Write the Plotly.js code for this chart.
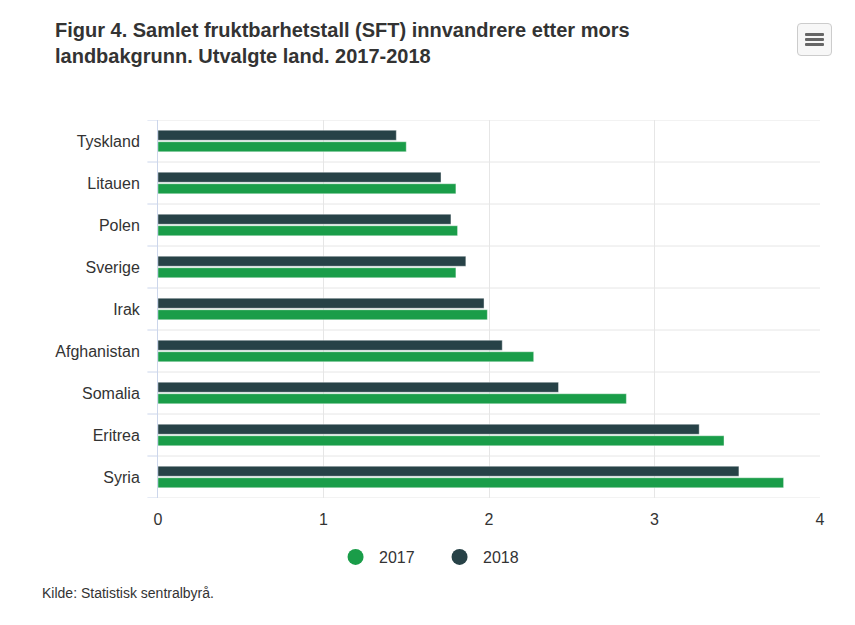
<!DOCTYPE html>
<html>
<head>
<meta charset="utf-8">
<script src="https://cdn.plot.ly/plotly-3.0.1.min.js"></script>
<style>
  html, body { margin: 0; padding: 0; background: #fff; }
  #chart { width: 855px; height: 625px; position: relative; }
  #menu { position: absolute; left: 797px; top: 23px; width: 35px; height: 33px; border: 1px solid #cccccc; border-radius: 4px; background: #f7f7f7; box-sizing: border-box; z-index: 10; }
  #menu span { position: absolute; left: 7px; width: 19px; height: 3px; background: #666666; border-radius: 1px; }
</style>
</head>
<body>
<div id="chart"></div>
<div id="menu"><span style="top:9px"></span><span style="top:14px"></span><span style="top:19px"></span></div>
<script>
const categories = ["Tyskland", "Litauen", "Polen", "Sverige", "Irak", "Afghanistan", "Somalia", "Eritrea", "Syria"];
const values2017 = [1.50, 1.80, 1.81, 1.80, 1.99, 2.27, 2.83, 3.42, 3.78];
const values2018 = [1.44, 1.71, 1.77, 1.86, 1.97, 2.08, 2.42, 3.27, 3.51];
const seriesNames = ["2017", "2018"];
const xTicks = [0, 1, 2, 3, 4];

const green = "#1a9d49";
const dark = "#274247";

const traces = [
  { type: "bar", orientation: "h", name: seriesNames[0], x: values2017, y: categories,
    marker: { color: green, line: { color: "rgba(255,255,255,0.4)", width: 1 } }, showlegend: false, hoverinfo: "x+name" },
  { type: "bar", orientation: "h", name: seriesNames[1], x: values2018, y: categories,
    marker: { color: dark, line: { color: "rgba(255,255,255,0.4)", width: 1 } }, showlegend: false, hoverinfo: "x+name" },
  { type: "scatter", mode: "markers", name: seriesNames[0], x: [null], y: [null],
    marker: { color: green, size: 17, symbol: "circle" }, showlegend: true },
  { type: "scatter", mode: "markers", name: seriesNames[1], x: [null], y: [null],
    marker: { color: dark, size: 17, symbol: "circle" }, showlegend: true }
];

const shapes = [];
for (let i = 0; i <= categories.length; i++) {
  const yy = i - 0.5;
  shapes.push({ type: "line", xref: "x domain", yref: "y", x0: 0, x1: 1, y0: yy, y1: yy,
    line: { color: "#e6e6e6", width: 1 }, layer: "below" });
  shapes.push({ type: "line", xref: "x domain", yref: "y", x0: -0.016, x1: 0, y0: yy, y1: yy,
    line: { color: "#ccd6eb", width: 1 } });
}

const layout = {
  width: 855, height: 625,
  margin: { l: 158, r: 35, t: 120, b: 127 },
  paper_bgcolor: "#ffffff", plot_bgcolor: "#ffffff",
  font: { family: "Liberation Sans, Arial, sans-serif", color: "#333333", size: 16 },
  title: {
    text: "<b>Figur 4. Samlet fruktbarhetstall (SFT) innvandrere etter mors<br>landbakgrunn. Utvalgte land. 2017-2018</b>",
    x: 55 / 855, xref: "container", xanchor: "left",
    y: 1 - 37 / 625, yref: "container", yanchor: "top",
    pad: { t: 0, l: 0, r: 0, b: 0 },
    font: { size: 20, color: "#333333", family: "Liberation Sans, Arial, sans-serif" }
  },
  barmode: "group",
  bargap: 0.45,
  bargroupgap: 0.13,
  xaxis: {
    range: [0, 4], tickvals: xTicks, ticktext: xTicks.map(String),
    showgrid: true, gridcolor: "#e6e6e6", gridwidth: 1, zeroline: false,
    showline: false, ticks: "", ticklabelstandoff: 10,
    tickfont: { size: 16, color: "#333333" }, fixedrange: true
  },
  yaxis: {
    type: "category", categoryorder: "array", categoryarray: categories.slice().reverse(),
    range: [-0.5, categories.length - 0.5],
    showgrid: false, zeroline: false, showline: true, linecolor: "#ccd6eb", linewidth: 1,
    ticks: "", ticklabelstandoff: 14,
    tickfont: { size: 16, color: "#333333" }, fixedrange: true
  },
  shapes: shapes,
  showlegend: true,
  legend: {
    orientation: "h", xref: "container", yref: "container",
    x: 0.510, xanchor: "center", y: 1 - 557 / 625, yanchor: "middle",
    font: { size: 16, color: "#333333" }, itemwidth: 37, entrywidth: 52, entrywidthmode: "pixels",
    tracegroupgap: 0, bgcolor: "rgba(0,0,0,0)"
  },
  annotations: [{
    text: "Kilde: Statistisk sentralbyrå.", xref: "paper", yref: "paper",
    x: (40 - 158) / 662, y: (498 - 593) / 378, xanchor: "left", yanchor: "middle",
    showarrow: false, font: { size: 14, color: "#333333" }
  }],
  hovermode: "closest"
};

Plotly.newPlot("chart", traces, layout, { displayModeBar: false, responsive: false });
</script>
</body>
</html>
